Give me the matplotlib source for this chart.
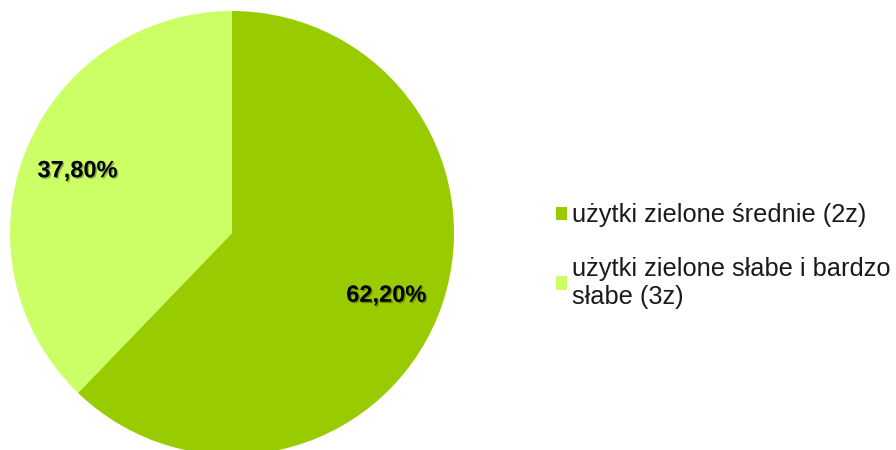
import matplotlib
matplotlib.use("Agg")
import matplotlib.pyplot as plt
import matplotlib.patheffects as pe

categories = ["użytki zielone średnie (2z)", "użytki zielone słabe i bardzo\nsłabe (3z)"]
values = [62.2, 37.8]
colors = ["#99CC00", "#CCFF66"]

plt.rcParams['font.family'] = ['Liberation Sans', 'DejaVu Sans']

fig = plt.figure(figsize=(8.96, 4.5), dpi=100)
ax = fig.add_axes([10/896, -5/450, 444/896, 444/450])
wedges, texts, autotexts = ax.pie(
    values, colors=colors, startangle=90, counterclock=False,
    autopct=lambda p: f"{p:.2f}%".replace(".", ","), pctdistance=0.75,
    wedgeprops=dict(linewidth=0), radius=1)
for t in autotexts:
    t.set_fontsize(17)
    t.set_fontweight('bold')
    t.set_color('black')
    t.set_path_effects([pe.withSimplePatchShadow(offset=(1, -1), alpha=0.3, shadow_rgbFace='black')])
ax.set_xlim(-1, 1)
ax.set_ylim(-1, 1)
ax.set_aspect('equal')
ax.axis('off')

leg = fig.legend(wedges, categories, loc='center left', bbox_to_anchor=(556/896, 194/450),
                 frameon=False, fontsize=18.3, handlelength=0.42, handleheight=0.42,
                 handletextpad=0.2, labelspacing=1.15, borderpad=0, borderaxespad=0)
for t in leg.get_texts():
    t.set_linespacing(1.2)
    t.set_color('#1a1a1a')

fig.savefig("out.png", dpi=100)
